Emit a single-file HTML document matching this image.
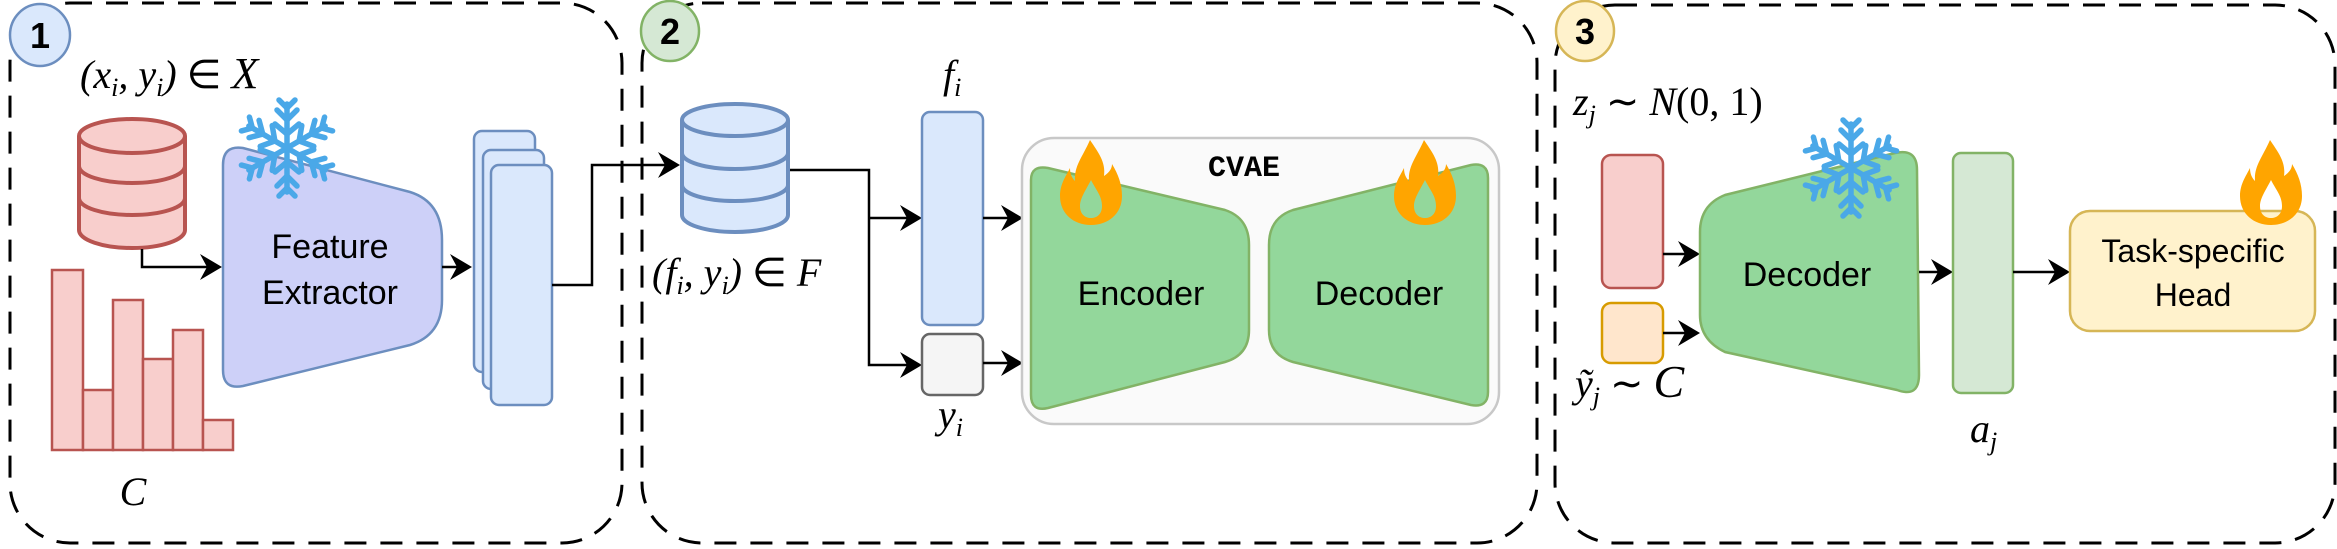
<!DOCTYPE html>
<html><head><meta charset="utf-8"><style>
html,body{margin:0;padding:0;background:#fff;}
svg{display:block;}
.m{font-family:"Liberation Serif",serif;font-style:italic;font-size:40px;fill:#000;}
.s{font-family:"Liberation Sans",sans-serif;fill:#000;}
</style></head><body>
<svg width="2337" height="549" viewBox="0 0 2337 549" xmlns="http://www.w3.org/2000/svg">
<defs>
<g id="flame">
<path fill="#ffa500" fill-rule="evenodd" d="M30,0 C38,12 46,22 44,36 C50,32 52,28 52,24 C58,34 62,44 62,56 C62,74 48,85 31,85 C14,85 0,74 0,56 C0,44 6,36 10,28 C10,34 12,38 15,41 C14,26 22,18 30,0 Z M31,40 C36,50 42,56 42,66 C42,74 37,78 31,78 C25,78 20,74 20,66 C20,58 26,50 31,40 Z"/>
</g>
<g id="snow" stroke="#4aa8e8" stroke-width="5.5" stroke-linecap="round" fill="none">
<g id="arm"><line x1="0" y1="0" x2="0" y2="-44"/><polyline points="-10,-38 0,-28 10,-38"/><polyline points="-8,-48 0,-40 8,-48"/><polyline points="-12,-24 0,-14 12,-24"/></g>
<use href="#arm" transform="rotate(60)"/><use href="#arm" transform="rotate(120)"/><use href="#arm" transform="rotate(180)"/><use href="#arm" transform="rotate(240)"/><use href="#arm" transform="rotate(300)"/>
</g>
<g id="arr"><path d="M0,0 L-22,-13 L-15,0 L-22,13 Z" fill="#000"/></g>
</defs>

<g fill="none" stroke="#000" stroke-width="3" stroke-dasharray="22 14">
<rect x="10" y="3" width="612" height="540" rx="60"/>
<rect x="642" y="3" width="895" height="540" rx="60"/>
<rect x="1555" y="5" width="780" height="538" rx="60"/>
</g>

<ellipse cx="40" cy="35" rx="30" ry="31" fill="#dae8fc" stroke="#6c8ebf" stroke-width="2.5"/>
<text x="40" y="48" class="s" font-size="36" font-weight="bold" text-anchor="middle">1</text>
<ellipse cx="670" cy="31" rx="29" ry="30" fill="#d5e8d4" stroke="#82b366" stroke-width="2.5"/>
<text x="670" y="44" class="s" font-size="36" font-weight="bold" text-anchor="middle">2</text>
<ellipse cx="1585" cy="31" rx="29" ry="30" fill="#fff2cc" stroke="#d6b656" stroke-width="2.5"/>
<text x="1585" y="44" class="s" font-size="36" font-weight="bold" text-anchor="middle">3</text>

<!-- Panel 1 -->
<text x="80" y="88" class="m">(x<tspan font-size="26" dy="8">i</tspan><tspan dy="-8">, y</tspan><tspan font-size="26" dy="8">i</tspan><tspan dy="-8">) </tspan><tspan font-style="normal">∈</tspan> <tspan font-size="44">X</tspan></text>
<g fill="#f8cecc" stroke="#b85450" stroke-width="4">
<path d="M79,136 L79,230 A53,18 0 0 0 185,230 L185,136"/>
<ellipse cx="132" cy="136" rx="53" ry="17"/>
<path d="M79,166 A53,17 0 0 0 185,166" fill="none"/>
<path d="M79,198 A53,17 0 0 0 185,198" fill="none"/>
</g>
<polyline points="142,249 142,267 210,267" fill="none" stroke="#000" stroke-width="2.5"/>
<use href="#arr" x="222" y="267"/>
<g fill="#f8cecc" stroke="#b85450" stroke-width="2.5">
<rect x="52" y="270" width="31" height="180"/>
<rect x="83" y="390" width="30" height="60"/>
<rect x="113" y="300" width="30" height="150"/>
<rect x="143" y="359" width="30" height="91"/>
<rect x="173" y="330" width="30" height="120"/>
<rect x="203" y="420" width="30" height="30"/>
</g>
<text x="133" y="505" class="m" font-size="46" text-anchor="middle">C</text>
<path d="M223,165 Q223,145 243,148 L410,192 Q442,202 442,240 L442,300 Q442,335 410,345 L243,386 Q223,390 223,370 Z" fill="#cdd0f8" stroke="#6c8ebf" stroke-width="2.5"/>
<text x="330" y="258" class="s" font-size="34" text-anchor="middle">Feature</text>
<text x="330" y="304" class="s" font-size="34" text-anchor="middle">Extractor</text>
<use href="#snow" x="287" y="148"/>
<line x1="442" y1="267" x2="460" y2="267" stroke="#000" stroke-width="2.5"/>
<use href="#arr" x="472" y="267"/>
<g fill="#dae8fc" stroke="#6c8ebf" stroke-width="2.5">
<rect x="474" y="131" width="61" height="241" rx="8"/>
<rect x="483" y="150" width="61" height="239" rx="8"/>
<rect x="491" y="165" width="61" height="240" rx="8"/>
</g>
<polyline points="552,285 592,285 592,165 668,165" fill="none" stroke="#000" stroke-width="2.5"/>
<use href="#arr" x="680" y="165"/>

<!-- Panel 2 -->
<g fill="#dae8fc" stroke="#6c8ebf" stroke-width="4">
<path d="M682,120 L682,215 A53,17 0 0 0 788,215 L788,120"/>
<ellipse cx="735" cy="120" rx="53" ry="16"/>
<path d="M682,153 A53,16 0 0 0 788,153" fill="none"/>
<path d="M682,185 A53,16 0 0 0 788,185" fill="none"/>
</g>
<text x="652" y="286" class="m">(f<tspan font-size="26" dy="8">i</tspan><tspan dy="-8">, y</tspan><tspan font-size="26" dy="8">i</tspan><tspan dy="-8">) </tspan><tspan font-style="normal">∈</tspan> F</text>
<polyline points="790,170 869,170 869,365 910,365" fill="none" stroke="#000" stroke-width="2.5"/>
<line x1="869" y1="218" x2="910" y2="218" stroke="#000" stroke-width="2.5"/>
<use href="#arr" x="922" y="218"/>
<use href="#arr" x="922" y="365"/>
<rect x="922" y="112" width="61" height="213" rx="8" fill="#dae8fc" stroke="#6c8ebf" stroke-width="2.5"/>
<rect x="922" y="334" width="61" height="61" rx="8" fill="#f5f5f5" stroke="#666" stroke-width="2.5"/>
<text x="943" y="88" class="m">f<tspan font-size="26" dy="8">i</tspan></text>
<text x="938" y="428" class="m">y<tspan font-size="26" dy="8">i</tspan></text>
<line x1="983" y1="218" x2="1010" y2="218" stroke="#000" stroke-width="2.5"/>
<use href="#arr" x="1023" y="218"/>
<line x1="983" y1="363" x2="1010" y2="363" stroke="#000" stroke-width="2.5"/>
<use href="#arr" x="1023" y="363"/>
<rect x="1022" y="138" width="477" height="286" rx="32" fill="#fafafa" stroke="#c8c8c8" stroke-width="2.5"/>
<text x="1244" y="176" font-family="Liberation Mono,monospace" font-weight="bold" font-size="30" text-anchor="middle">CVAE</text>
<path d="M1031,180 Q1031,165 1048,168 L1225,210 Q1249,218 1249,245 L1249,330 Q1249,355 1225,362 L1048,408 Q1031,412 1031,395 Z" fill="#93d79b" stroke="#82b366" stroke-width="2.5"/>
<path d="M1488,178 Q1488,162 1471,165 L1293,210 Q1269,218 1269,245 L1269,330 Q1269,355 1293,362 L1471,405 Q1488,408 1488,392 Z" fill="#93d79b" stroke="#82b366" stroke-width="2.5"/>
<text x="1141" y="305" class="s" font-size="34" text-anchor="middle">Encoder</text>
<text x="1379" y="305" class="s" font-size="34" text-anchor="middle">Decoder</text>
<use href="#flame" x="1060" y="140"/>
<use href="#flame" x="1394" y="140"/>

<!-- Panel 3 -->
<text x="1573" y="115" class="m">z<tspan font-size="26" dy="8">j</tspan><tspan dy="-8" font-style="normal"> ∼ </tspan>N<tspan font-style="normal">(0, 1)</tspan></text>
<rect x="1602" y="155" width="61" height="133" rx="9" fill="#f8cecc" stroke="#b85450" stroke-width="2.5"/>
<rect x="1602" y="303" width="61" height="60" rx="9" fill="#ffe6cc" stroke="#d79b00" stroke-width="2.5"/>
<text x="1575" y="397" class="m">ỹ<tspan font-size="26" dy="8">j</tspan><tspan dy="-8" font-style="normal"> ∼ </tspan><tspan font-size="46">C</tspan></text>
<line x1="1663" y1="254" x2="1688" y2="254" stroke="#000" stroke-width="2.5"/>
<use href="#arr" x="1700" y="254"/>
<line x1="1663" y1="333" x2="1688" y2="333" stroke="#000" stroke-width="2.5"/>
<use href="#arr" x="1700" y="333"/>
<path d="M1700,232 Q1700,205 1725,195 L1895,153 Q1917,148 1917,170 L1919,375 Q1919,398 1897,390 L1725,352 Q1700,340 1700,315 Z" fill="#93d79b" stroke="#82b366" stroke-width="2.5"/>
<text x="1807" y="286" class="s" font-size="34" text-anchor="middle">Decoder</text>
<use href="#snow" x="1851" y="168"/>
<line x1="1919" y1="272" x2="1941" y2="272" stroke="#000" stroke-width="2.5"/>
<use href="#arr" x="1953" y="272"/>
<rect x="1953" y="153" width="60" height="240" rx="8" fill="#d5e8d4" stroke="#82b366" stroke-width="2.5"/>
<text x="1970" y="442" class="m">a<tspan font-size="26" dy="8">j</tspan></text>
<line x1="2013" y1="272" x2="2058" y2="272" stroke="#000" stroke-width="2.5"/>
<use href="#arr" x="2070" y="272"/>
<rect x="2070" y="211" width="245" height="120" rx="20" fill="#fff2cc" stroke="#d6b656" stroke-width="2.5"/>
<text x="2193" y="262" class="s" font-size="32" text-anchor="middle">Task-specific</text>
<text x="2193" y="306" class="s" font-size="32" text-anchor="middle">Head</text>
<use href="#flame" x="2240" y="140"/>
</svg>
</body></html>
